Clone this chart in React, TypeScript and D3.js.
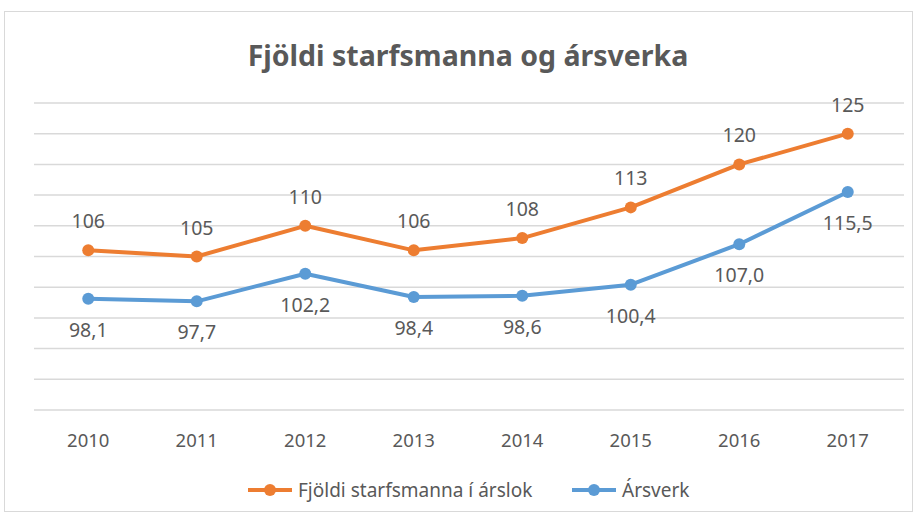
import React, { useEffect, useRef } from 'react';
import * as d3 from 'd3';

const years = ['2010', '2011', '2012', '2013', '2014', '2015', '2016', '2017'];
const starfsmenn = [106, 105, 110, 106, 108, 113, 120, 125];
const arsverk = [98.1, 97.7, 102.2, 98.4, 98.6, 100.4, 107.0, 115.5];
const seriesNames = ['Fjöldi starfsmanna í árslok', 'Ársverk'];
const seriesColors = ['#ED7D31', '#5B9BD5'];
const gridTicks = [80, 85, 90, 95, 100, 105, 110, 115, 120, 125, 130];

const width = 918;
const height = 518;
const font = "'Noto Sans', 'DejaVu Sans', sans-serif";

const App = () => {
    const ref = useRef<SVGSVGElement>(null);

    useEffect(() => {
        const svg = d3.select(ref.current);
        svg.selectAll('*').remove();

        // frame
        svg.append('rect')
            .attr('x', 4.5).attr('y', 11.5)
            .attr('width', 908).attr('height', 500)
            .attr('fill', '#fff')
            .attr('stroke', '#d9d9d9')
            .attr('stroke-width', 1);

        const x = d3.scaleBand().domain(years).range([34, 902]);
        const y = d3.scaleLinear().domain([80, 130]).range([410, 103]);

        // title
        svg.append('text')
            .attr('x', 468).attr('y', 66)
            .attr('text-anchor', 'middle')
            .style('font-family', font)
            .style('font-size', '28.5px')
            .style('font-weight', 'bold')
            .style('fill', '#595959')
            .text('Fjöldi starfsmanna og ársverka');

        // gridlines
        svg.append('g')
            .selectAll('line')
            .data(gridTicks)
            .enter()
            .append('line')
            .attr('x1', 34).attr('x2', 904)
            .attr('y1', (d) => y(d)).attr('y2', (d) => y(d))
            .attr('stroke', '#d9d9d9')
            .attr('stroke-width', 1.5);

        // x labels
        svg.append('g')
            .selectAll('text')
            .data(years)
            .enter()
            .append('text')
            .attr('x', (d) => x(d)! + x.bandwidth() / 2)
            .attr('y', 447)
            .attr('text-anchor', 'middle')
            .style('font-family', font)
            .style('font-size', '18.5px')
            .style('fill', '#595959')
            .text((d) => d);

        const line = d3.line<number>()
            .x((d, i) => x(years[i])! + x.bandwidth() / 2)
            .y((d) => y(d));

        const allSeries = [starfsmenn, arsverk];
        allSeries.forEach((vals, si) => {
            const g = svg.append('g');
            g.append('path')
                .attr('d', line(vals))
                .attr('fill', 'none')
                .attr('stroke', seriesColors[si])
                .attr('stroke-width', 4)
                .attr('stroke-linejoin', 'round');
            g.selectAll('circle')
                .data(vals)
                .enter()
                .append('circle')
                .attr('cx', (d, i) => x(years[i])! + x.bandwidth() / 2)
                .attr('cy', (d) => y(d))
                .attr('r', 6)
                .attr('fill', seriesColors[si]);
            g.selectAll('text')
                .data(vals)
                .enter()
                .append('text')
                .attr('x', (d, i) => x(years[i])! + x.bandwidth() / 2)
                .attr('y', (d) => (si === 0 ? y(d) - 22 : y(d) + 38))
                .attr('text-anchor', 'middle')
                .style('font-family', font)
                .style('font-size', '19.5px')
                .style('fill', '#595959')
                .text((d) => (si === 0 ? String(d) : d.toFixed(1).replace('.', ',')));
        });

        // legend
        const legendX = [248, 572];
        seriesNames.forEach((name, i) => {
            const lg = svg.append('g').attr('transform', `translate(${legendX[i]}, 490)`);
            lg.append('line')
                .attr('x1', 0).attr('x2', 44)
                .attr('stroke', seriesColors[i])
                .attr('stroke-width', 4);
            lg.append('circle').attr('cx', 22).attr('r', 6).attr('fill', seriesColors[i]);
            lg.append('text')
                .attr('x', 50).attr('y', 7)
                .style('font-family', font)
                .style('font-size', '19px')
                .style('fill', '#595959')
                .text(name);
        });
    }, []);

    return (
        <svg
            ref={ref}
            width={width}
            height={height}
            style={{ position: 'absolute', left: 0, top: 0, display: 'block' }}
        />
    );
};

export default App;
